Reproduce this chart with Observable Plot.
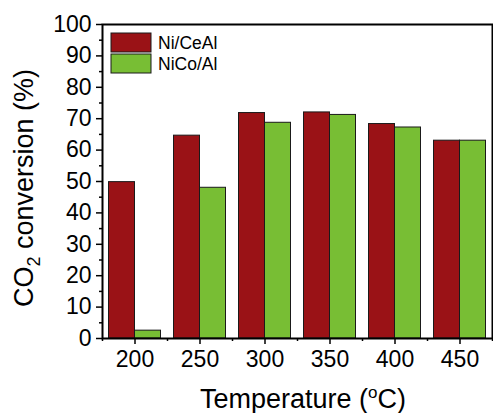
<!DOCTYPE html>
<html>
<head>
<meta charset="utf-8">
<script src="https://cdn.jsdelivr.net/npm/d3@7"></script>
<script src="https://cdn.jsdelivr.net/npm/@observablehq/plot@0.6"></script>
<style>
  html, body { margin: 0; padding: 0; background: #fff; }
  #chart { position: relative; width: 493px; height: 413px; overflow: hidden; }
</style>
</head>
<body>
<div id="chart"></div>
<script>
const temperatures = [200, 250, 300, 350, 400, 450];
const seriesNames = ["Ni/CeAl", "NiCo/Al"];
const niCeAl = [49.8, 64.6, 71.8, 72.0, 68.3, 63.0];
const niCoAl = [2.5, 48.0, 68.7, 71.2, 67.2, 63.0];
const seriesColors = ["#9a1216", "#78be34"];
const xTicks = [200, 250, 300, 350, 400, 450];
const xMinorTicks = [175, 225, 275, 325, 375, 425, 475];
const yTicks = [0, 10, 20, 30, 40, 50, 60, 70, 80, 90, 100];
const yMinorTicks = [5, 15, 25, 35, 45, 55, 65, 75, 85, 95];

const rows = [];
temperatures.forEach((t, i) => {
  rows.push({temp: t, series: seriesNames[0], value: niCeAl[i]});
  rows.push({temp: t, series: seriesNames[1], value: niCoAl[i]});
});
const barW = 20;

const plot = Plot.plot({
  width: 493,
  height: 413,
  marginLeft: 102,
  marginRight: 1,
  marginTop: 24,
  marginBottom: 75,
  style: {fontFamily: "'Liberation Sans', Arial, sans-serif", fontSize: "23px", color: "#000", background: "#fff"},
  x: {domain: [175, 475], label: null},
  y: {domain: [0, 100], label: null},
  color: {domain: seriesNames, range: seriesColors},
  marks: [
    Plot.rectY(rows, {
      x1: d => d.series === seriesNames[0] ? d.temp - barW : d.temp,
      x2: d => d.series === seriesNames[0] ? d.temp : d.temp + barW,
      y1: 0,
      y2: "value",
      fill: "series",
      stroke: "#1a1a1a",
      strokeWidth: 1
    }),
    Plot.axisY({ticks: yTicks, tickSize: 6, tickPadding: 5, tickFormat: d => String(d), strokeWidth: 1.5, fontSize: 23}),
    Plot.axisY({ticks: yMinorTicks, tickSize: 3, text: null, strokeWidth: 1.5}),
    Plot.axisX({ticks: xTicks, tickSize: 6, tickPadding: 6, tickFormat: d => String(d), strokeWidth: 1.5, fontSize: 23}),
    Plot.axisX({ticks: xMinorTicks, tickSize: 3, text: null, strokeWidth: 1.5}),
    Plot.frame({stroke: "#000", strokeWidth: 2})
  ]
});

document.getElementById("chart").appendChild(plot);

const svg = d3.select(plot);
const font = "'Liberation Sans', Arial, sans-serif";

// Y axis title with subscript
const yt = svg.append("text")
  .attr("transform", "translate(33,188) rotate(-90)")
  .attr("text-anchor", "middle")
  .attr("font-family", font)
  .attr("font-size", 27)
  .attr("fill", "#000");
yt.append("tspan").text("CO");
yt.append("tspan").attr("font-size", 18).attr("dy", 7).text("2");
yt.append("tspan").attr("dy", -7).text(" conversion (%)");

// X axis title with superscript
const xt = svg.append("text")
  .attr("x", 303)
  .attr("y", 408)
  .attr("text-anchor", "middle")
  .attr("font-family", font)
  .attr("font-size", 27)
  .attr("fill", "#000");
xt.append("tspan").text("Temperature (");
xt.append("tspan").attr("font-size", 17).attr("dy", -10).text("o");
xt.append("tspan").attr("dy", 10).text("C)");

// Legend inside the frame
const lg = svg.append("g").attr("font-family", font).attr("font-size", 17.5).attr("text-anchor", "start");
seriesNames.forEach((name, i) => {
  const y0 = 33 + i * 21;
  lg.append("rect").attr("x", 111).attr("y", y0).attr("width", 40).attr("height", 19)
    .attr("fill", seriesColors[i]).attr("stroke", "#1a1a1a").attr("stroke-width", 1);
  lg.append("text").attr("x", 158).attr("y", y0 + 16).attr("text-anchor", "start").attr("fill", "#000").text(name);
});
</script>
</body>
</html>
